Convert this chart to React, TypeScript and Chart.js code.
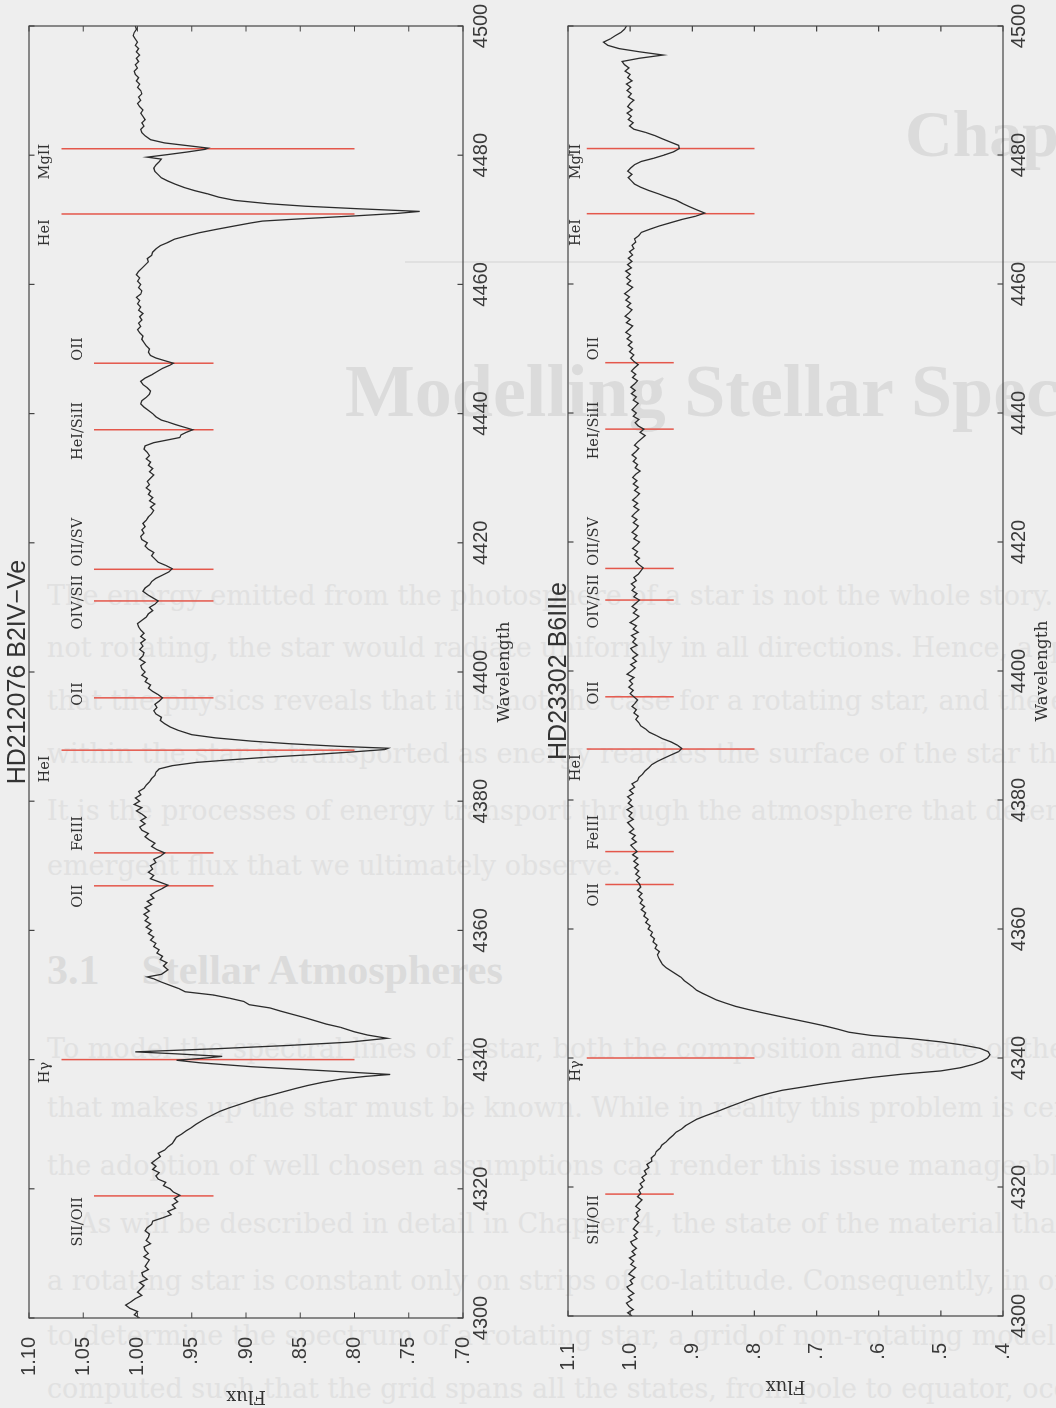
import React, { useEffect, useRef } from 'react';
import { Chart, registerables } from 'chart.js';

Chart.register(...registerables);

// ---------------- DATA ----------------
// HD212076 (B2IV-Ve): [wavelength (Å), normalised flux]
const HD212076_SPECTRUM: [number, number][] = [
  [4300,0.998],[4300.5,1.003],[4301,1.000],[4301.5,1.007],[4302,1.011],[4302.5,1.006],[4303,1.002],[4303.5,0.996],[4304,1.000],[4304.5,0.997],
  [4305,0.994],[4305.5,0.998],[4306,0.991],[4306.5,0.995],[4307,0.996],[4307.5,0.990],[4308,0.993],[4308.5,0.991],[4309,0.989],[4309.5,0.994],
  [4310,0.990],[4310.5,0.993],[4311,0.994],[4311.5,0.988],[4312,0.992],[4312.5,0.990],[4313,0.989],[4313.5,0.993],[4314,0.991],[4314.5,0.987],
  [4315,0.986],[4315.5,0.977],[4316,0.969],[4316.5,0.972],[4317,0.965],[4317.5,0.968],[4318,0.963],[4318.5,0.966],[4319,0.961],[4319.5,0.967],
  [4320,0.970],[4320.5,0.976],[4321,0.974],[4321.5,0.981],[4322,0.983],[4322.5,0.980],[4323,0.986],[4323.5,0.983],[4324,0.987],[4324.5,0.983],
  [4325,0.979],[4325.5,0.981],[4326,0.975],[4326.5,0.972],[4327,0.968],[4327.5,0.966],[4328,0.964],[4328.5,0.959],[4329,0.955],[4329.5,0.950],
  [4330,0.946],[4330.5,0.941],[4331,0.936],[4331.5,0.930],[4332,0.924],[4332.5,0.916],[4333,0.907],[4333.5,0.898],[4334,0.889],[4334.5,0.877],
  [4335,0.866],[4335.5,0.855],[4336,0.843],[4336.5,0.829],[4337,0.812],[4337.4,0.790],[4337.7,0.767],[4338.3,0.830],[4338.9,0.895],[4339.5,0.942],
  [4339.9,0.964],[4340.2,0.940],[4340.5,0.922],[4340.9,0.965],[4341.2,1.002],[4341.7,0.925],[4342.2,0.860],[4342.7,0.805],[4343.3,0.770],[4343.8,0.788],
  [4344.3,0.800],[4345,0.813],[4345.5,0.826],[4346,0.836],[4346.5,0.846],[4347,0.857],[4347.5,0.868],[4348,0.878],[4348.5,0.897],[4349,0.902],
  [4349.5,0.915],[4350,0.930],[4350.5,0.956],[4351,0.962],[4351.5,0.970],[4352,0.978],[4352.5,0.985],[4352.8,0.991],[4353.2,0.978],[4353.9,0.972],
  [4354.5,0.976],[4355,0.973],[4355.5,0.979],[4356,0.977],[4356.5,0.982],[4357,0.980],[4357.5,0.985],[4358,0.983],[4358.5,0.988],[4359,0.985],
  [4359.5,0.990],[4360,0.987],[4360.5,0.992],[4361,0.988],[4361.5,0.993],[4362,0.990],[4362.5,0.994],[4363,0.989],[4363.5,0.993],[4364,0.987],
  [4364.5,0.991],[4365,0.985],[4365.5,0.988],[4366,0.983],[4366.5,0.977],[4367,0.972],[4367.5,0.980],[4368,0.988],[4368.5,0.985],[4369,0.990],
  [4369.5,0.986],[4370,0.988],[4370.5,0.983],[4371,0.985],[4371.5,0.979],[4372,0.975],[4372.5,0.982],[4373,0.987],[4373.5,0.984],[4374,0.989],
  [4374.5,0.993],[4375,0.990],[4375.5,0.996],[4376,0.998],[4376.5,0.993],[4377,0.997],[4377.5,0.992],[4378,0.996],[4378.5,1.001],[4379,0.996],
  [4379.5,1.003],[4380,0.998],[4380.5,1.002],[4381,0.997],[4381.5,0.999],[4382,0.994],[4382.5,0.992],[4383,0.989],[4383.5,0.987],[4384,0.984],
  [4384.5,0.983],[4385,0.980],[4385.5,0.968],[4386,0.946],[4386.4,0.915],[4386.8,0.881],[4387.2,0.840],[4387.6,0.804],[4388,0.772],[4388.2,0.769],
  [4388.5,0.815],[4388.9,0.860],[4389.3,0.895],[4389.8,0.928],[4390.3,0.950],[4391,0.963],[4391.5,0.970],[4392,0.975],[4392.5,0.979],[4393,0.978],
  [4393.5,0.983],[4394,0.985],[4394.5,0.982],[4395,0.984],[4395.5,0.980],[4396,0.977],[4396.5,0.981],[4397,0.986],[4397.5,0.990],[4398,0.988],
  [4398.5,0.993],[4399,0.991],[4399.5,0.996],[4400,0.993],[4400.5,0.996],[4401,0.997],[4401.5,0.993],[4402,0.998],[4402.5,0.995],[4403,0.994],
  [4403.5,0.998],[4404,0.995],[4404.5,0.997],[4405,0.993],[4405.5,0.997],[4406,0.994],[4406.5,0.997],[4407,0.999],[4407.5,1.000],[4408,0.996],
  [4408.5,0.992],[4409,0.990],[4409.5,0.986],[4410,0.989],[4410.5,0.984],[4411,0.981],[4411.5,0.986],[4412,0.991],[4412.5,0.995],[4413,0.993],
  [4413.5,0.989],[4414,0.987],[4414.5,0.983],[4415,0.977],[4415.5,0.971],[4416,0.968],[4416.5,0.974],[4417,0.981],[4417.5,0.984],[4418,0.987],
  [4418.5,0.985],[4419,0.990],[4419.5,0.993],[4420,0.991],[4420.5,0.996],[4421,0.997],[4421.5,0.994],[4422,0.996],[4422.5,0.993],[4423,0.995],
  [4423.5,0.992],[4424,0.990],[4424.5,0.987],[4425,0.985],[4425.5,0.988],[4426,0.984],[4426.5,0.989],[4427,0.986],[4427.5,0.990],[4428,0.988],
  [4428.5,0.992],[4429,0.989],[4429.5,0.991],[4430,0.988],[4430.5,0.985],[4431,0.989],[4431.5,0.986],[4432,0.990],[4432.5,0.988],[4433,0.992],
  [4433.5,0.989],[4434,0.991],[4434.5,0.994],[4435,0.993],[4435.5,0.985],[4436,0.970],[4436.3,0.961],[4436.7,0.960],[4437.1,0.955],[4437.5,0.949],
  [4437.9,0.957],[4438.3,0.965],[4438.7,0.972],[4439,0.978],[4439.5,0.983],[4440,0.986],[4440.5,0.990],[4441,0.994],[4441.5,0.997],[4442,0.996],
  [4442.5,0.992],[4443,0.989],[4443.5,0.988],[4444,0.991],[4444.5,0.995],[4445,0.997],[4445.5,0.993],[4446,0.987],[4446.5,0.982],[4447,0.977],
  [4447.5,0.970],[4447.8,0.967],[4448.2,0.975],[4448.6,0.983],[4449,0.988],[4449.5,0.990],[4450,0.989],[4450.5,0.992],[4451,0.994],[4451.5,0.996],
  [4452,0.995],[4452.5,0.998],[4453,1.000],[4453.5,0.997],[4454,0.999],[4454.5,0.996],[4455,0.998],[4455.5,0.995],[4456,0.999],[4456.5,0.997],
  [4457,1.000],[4457.5,0.998],[4458,1.001],[4458.5,0.997],[4459,0.996],[4459.5,0.999],[4460,0.997],[4460.5,1.000],[4461,0.998],[4461.5,1.001],
  [4462,0.999],[4462.5,0.996],[4463,0.993],[4463.5,0.990],[4464,0.991],[4464.5,0.987],[4465,0.986],[4465.5,0.983],[4466,0.979],[4466.5,0.972],
  [4467,0.966],[4467.5,0.955],[4468,0.943],[4468.5,0.928],[4469,0.912],[4469.5,0.896],[4469.8,0.885],[4470.2,0.845],[4470.6,0.800],[4471,0.760],
  [4471.3,0.740],[4471.7,0.795],[4472.1,0.845],[4472.5,0.880],[4473,0.910],[4473.5,0.925],[4474,0.935],[4474.5,0.947],[4475,0.957],[4475.5,0.965],
  [4476,0.972],[4476.5,0.978],[4477,0.981],[4477.5,0.984],[4478,0.985],[4478.5,0.983],[4479,0.980],[4479.4,0.978],[4479.7,0.991],[4480.1,0.972],
  [4480.5,0.954],[4480.9,0.938],[4481.1,0.935],[4481.5,0.955],[4481.9,0.975],[4482.4,0.988],[4483,0.993],[4483.5,0.996],[4484,0.997],[4484.5,0.994],
  [4485,0.996],[4485.5,0.993],[4486,0.995],[4486.5,0.997],[4487,0.995],[4487.5,0.998],[4488,1.000],[4488.5,0.997],[4489,0.999],[4489.5,0.996],
  [4490,0.997],[4490.5,1.000],[4491,0.998],[4491.5,1.001],[4492,0.999],[4492.5,1.002],[4493,1.003],[4493.5,1.000],[4494,1.002],[4494.5,0.999],
  [4495,1.001],[4495.5,0.998],[4496,1.001],[4496.5,0.999],[4497,1.002],[4497.5,1.000],[4498,1.002],[4498.5,1.004],[4499,1.003],[4499.5,1.001],
  [4500,1.002],
];

// HD23302 (B6IIIe): [wavelength (Å), normalised flux]
const HD23302_SPECTRUM: [number, number][] = [
  [4300,0.997],[4300.5,1.004],[4301,0.995],[4301.5,1.002],[4302,1.006],[4302.5,0.997],[4303,1.003],[4303.5,0.994],[4304,1.001],[4304.5,1.005],
  [4305,0.996],[4305.5,1.000],[4306,0.993],[4306.5,1.002],[4307,0.997],[4307.5,0.991],[4308,0.999],[4308.5,0.994],[4309,1.001],[4309.5,0.992],
  [4310,0.997],[4310.5,0.990],[4311,0.996],[4311.5,0.999],[4312,0.989],[4312.5,0.994],[4313,0.988],[4313.5,0.995],[4314,0.991],[4314.5,0.986],
  [4315,0.993],[4315.5,0.987],[4316,0.990],[4316.5,0.984],[4317,0.991],[4317.5,0.986],[4318,0.981],[4318.5,0.988],[4319,0.983],[4319.5,0.986],
  [4320,0.980],[4320.5,0.984],[4321,0.977],[4321.5,0.981],[4322,0.974],[4322.5,0.977],[4323,0.970],[4323.5,0.973],[4324,0.965],[4324.5,0.966],
  [4325,0.960],[4325.5,0.958],[4326,0.952],[4326.5,0.949],[4327,0.942],[4327.5,0.937],[4328,0.931],[4328.5,0.926],[4329,0.917],[4329.5,0.911],
  [4330,0.902],[4330.5,0.893],[4331,0.880],[4331.5,0.866],[4332,0.852],[4332.5,0.839],[4333,0.825],[4333.5,0.811],[4334,0.796],[4334.5,0.777],
  [4335,0.755],[4335.5,0.722],[4336,0.690],[4336.5,0.652],[4337,0.610],[4337.5,0.562],[4338,0.500],[4338.5,0.468],[4339,0.448],[4339.5,0.434],
  [4340,0.425],[4340.5,0.421],[4341,0.424],[4341.5,0.437],[4342,0.464],[4342.5,0.500],[4343,0.548],[4343.5,0.612],[4344,0.648],[4344.5,0.667],
  [4345,0.688],[4345.5,0.712],[4346,0.737],[4346.5,0.762],[4347,0.786],[4347.5,0.809],[4348,0.830],[4348.5,0.846],[4349,0.861],[4349.5,0.872],
  [4350,0.883],[4350.5,0.893],[4351,0.899],[4351.5,0.906],[4352,0.913],[4352.5,0.918],[4353,0.926],[4353.5,0.934],[4354,0.942],[4354.5,0.948],
  [4355,0.951],[4355.5,0.954],[4356,0.956],[4356.5,0.953],[4357,0.960],[4357.5,0.957],[4358,0.963],[4358.5,0.961],[4359,0.967],[4359.5,0.964],
  [4360,0.971],[4360.5,0.968],[4361,0.975],[4361.5,0.971],[4362,0.978],[4362.5,0.975],[4363,0.982],[4363.5,0.977],[4364,0.984],[4364.5,0.980],
  [4365,0.986],[4365.5,0.981],[4366,0.988],[4366.5,0.983],[4367,0.985],[4367.5,0.990],[4368,0.984],[4368.5,0.991],[4369,0.986],[4369.5,0.993],
  [4370,0.987],[4370.5,0.994],[4371,0.988],[4371.5,0.996],[4372,0.989],[4372.5,0.994],[4373,0.999],[4373.5,0.990],[4374,0.997],[4374.5,0.992],
  [4375,1.001],[4375.5,0.994],[4376,0.999],[4376.5,1.004],[4377,0.995],[4377.5,1.002],[4378,0.997],[4378.5,1.005],[4379,0.996],[4379.5,1.003],
  [4380,0.998],[4380.5,1.004],[4381,0.995],[4381.5,1.001],[4382,0.993],[4382.5,0.997],[4383,0.988],[4383.5,0.986],[4384,0.980],[4384.5,0.976],
  [4385,0.970],[4385.5,0.965],[4386,0.956],[4386.5,0.945],[4387,0.934],[4387.5,0.922],[4388,0.917],[4388.5,0.924],[4389,0.934],[4389.5,0.948],
  [4390,0.958],[4390.5,0.969],[4391,0.975],[4391.5,0.983],[4392,0.986],[4392.5,0.991],[4393,0.987],[4393.5,0.994],[4394,0.990],[4394.5,0.997],
  [4395,0.992],[4395.5,0.988],[4396,0.994],[4396.5,1.000],[4397,0.995],[4397.5,1.002],[4398,0.996],[4398.5,1.001],[4399,0.994],[4399.5,1.005],
  [4400,0.998],[4400.5,0.992],[4401,0.999],[4401.5,0.990],[4402,0.996],[4402.5,0.988],[4403,0.995],[4403.5,0.999],[4404,0.989],[4404.5,0.996],
  [4405,0.991],[4405.5,0.998],[4406,0.987],[4406.5,0.995],[4407,0.990],[4407.5,1.000],[4408,0.992],[4408.5,0.986],[4409,0.995],[4409.5,0.989],
  [4410,0.997],[4410.5,0.991],[4411,0.985],[4411.5,0.994],[4412,0.989],[4412.5,0.997],[4413,0.992],[4413.5,0.998],[4414,0.990],[4414.5,0.994],
  [4415,0.987],[4415.5,0.983],[4416,0.979],[4416.5,0.986],[4417,0.991],[4417.5,0.985],[4418,0.993],[4418.5,0.988],[4419,0.996],[4419.5,0.990],
  [4420,0.985],[4420.5,0.994],[4421,0.989],[4421.5,0.997],[4422,0.991],[4422.5,0.987],[4423,0.995],[4423.5,0.989],[4424,0.997],[4424.5,0.992],
  [4425,0.986],[4425.5,0.994],[4426,0.988],[4426.5,0.996],[4427,0.990],[4427.5,0.985],[4428,0.993],[4428.5,0.987],[4429,0.995],[4429.5,0.989],
  [4430,0.996],[4430.5,0.991],[4431,0.984],[4431.5,0.992],[4432,0.988],[4432.5,0.995],[4433,0.990],[4433.5,0.997],[4434,0.991],[4434.5,0.986],
  [4435,0.993],[4435.5,0.988],[4436,0.982],[4436.5,0.976],[4437,0.984],[4437.5,0.978],[4438,0.987],[4438.5,0.992],[4439,0.986],[4439.5,0.995],
  [4440,0.990],[4440.5,0.997],[4441,0.992],[4441.5,0.987],[4442,0.995],[4442.5,0.990],[4443,0.998],[4443.5,0.992],[4444,0.999],[4444.5,0.993],
  [4445,0.988],[4445.5,0.996],[4446,0.991],[4446.5,0.998],[4447,0.993],[4447.5,0.987],[4448,0.994],[4448.5,0.999],[4449,0.994],[4449.5,1.001],
  [4450,0.996],[4450.5,1.003],[4451,0.997],[4451.5,1.005],[4452,0.999],[4452.5,1.007],[4453,1.001],[4453.5,0.996],[4454,1.006],[4454.5,1.000],
  [4455,1.008],[4455.5,1.002],[4456,0.997],[4456.5,1.005],[4457,0.999],[4457.5,1.007],[4458,1.001],[4458.5,1.009],[4459,1.002],[4459.5,0.996],
  [4460,1.005],[4460.5,0.999],[4461,1.006],[4461.5,1.000],[4462,1.007],[4462.5,0.998],[4463,1.004],[4463.5,0.997],[4464,1.003],[4464.5,0.996],
  [4465,1.001],[4465.5,0.994],[4466,0.997],[4466.5,0.991],[4467,0.993],[4467.5,0.986],[4468,0.982],[4468.5,0.968],[4469,0.953],[4469.5,0.935],
  [4470,0.917],[4470.5,0.895],[4471,0.880],[4471.5,0.893],[4472,0.905],[4472.5,0.916],[4473,0.926],[4473.5,0.941],[4474,0.955],[4474.5,0.970],
  [4475,0.983],[4475.5,0.993],[4476,0.998],[4476.5,1.003],[4477,0.997],[4477.5,1.004],[4478,0.999],[4478.5,0.993],[4479,0.982],[4479.5,0.962],
  [4480,0.945],[4480.5,0.930],[4481,0.921],[4481.5,0.922],[4482,0.935],[4482.5,0.948],[4483,0.960],[4483.5,0.975],[4484,0.994],[4484.5,1.001],
  [4485,0.995],[4485.5,1.003],[4486,0.998],[4486.5,1.005],[4487,0.997],[4487.5,1.004],[4488,1.000],[4488.5,0.994],[4489,1.003],[4489.5,0.998],
  [4490,1.005],[4490.5,0.999],[4491,1.006],[4491.5,0.997],[4492,1.004],[4492.5,1.000],[4493,1.008],[4493.5,1.002],[4494,1.009],[4494.5,1.013],
  [4495,0.985],[4495.5,0.947],[4496,0.985],[4496.5,1.018],[4497,1.036],[4497.5,1.043],[4498,1.032],[4498.5,1.024],[4499,1.015],[4499.5,1.009],
  [4500,1.006],
];

// Identified lines (same set marked on both spectra)
const LINE_NAMES = ['SII/OII', 'Hγ', 'OII', 'FeIII', 'HeI', 'OII', 'OIV/SII', 'OII/SV', 'HeI/SiII', 'OII', 'HeI', 'MgII'];
const LINE_WAVELENGTHS = [4318.9, 4340.0, 4366.9, 4372.0, 4387.9, 4396.0, 4411.0, 4415.9, 4437.5, 4447.8, 4470.9, 4481.0];
const LINE_LABEL_WAVELENGTHS = [4314.9, 4338.0, 4365.3, 4375.0, 4385.0, 4396.6, 4410.8, 4420.1, 4437.3, 4450.0, 4468.0, 4479.0];
const LINE_STRONG = [false, true, false, false, true, false, false, false, false, false, true, true];
const STRONG_MARK_FLUX = [1.07, 0.80];
const WEAK_MARK_FLUX = [1.04, 0.93];

const WAVE_MIN = 4300;
const WAVE_MAX = 4500;
const WAVE_STEP = 20;

// ---------------- STYLE / LAYOUT ----------------
const INK = '#2b2b2b';
const RED = '#e4574b';

const PLOT_A = {
  title: 'HD212076 B2IV\u2212Ve',
  spectrum: HD212076_SPECTRUM,
  yMin: 0.7, yMax: 1.1, yStep: 0.05, decimals: 2,
  labelStrong: 1.085, labelWeak: 1.055,
  height: 530, yAxisWidth: 90, xAxisHeight: 67,
  titlePadTop: 12.25, titlePadBottom: 4.25,
  yTickPad: 19, xTickPad: 6, yTitlePad: 1.5, xTitlePadBottom: 15,
};
const PLOT_B = {
  title: 'HD23302 B6IIIe',
  spectrum: HD23302_SPECTRUM,
  yMin: 0.4, yMax: 1.1, yStep: 0.1, decimals: 1,
  labelStrong: 1.086, labelWeak: 1.057,
  height: 526, yAxisWidth: 92, xAxisHeight: 53,
  titlePadTop: 23.25, titlePadBottom: 2.25,
  yTickPad: 27, xTickPad: 4.5, yTitlePad: 12, xTitlePadBottom: 3.3,
};

const framePlugin = {
  id: 'idlFrame',
  afterDraw(chart: any) {
    const { ctx, chartArea: a, scales } = chart;
    const x = scales.x, y = scales.y;
    ctx.save();
    ctx.strokeStyle = '#444';
    ctx.lineWidth = 1.2;
    ctx.strokeRect(a.left, a.top, a.right - a.left, a.bottom - a.top);
    const L = 5.5;
    ctx.beginPath();
    x.ticks.forEach((t: any) => {
      const px = x.getPixelForValue(t.value);
      ctx.moveTo(px, a.bottom); ctx.lineTo(px, a.bottom - L);
      ctx.moveTo(px, a.top); ctx.lineTo(px, a.top + L);
    });
    y.ticks.forEach((t: any) => {
      const py = y.getPixelForValue(t.value);
      ctx.moveTo(a.left, py); ctx.lineTo(a.left + L, py);
      ctx.moveTo(a.right, py); ctx.lineTo(a.right - L, py);
    });
    ctx.stroke();
    ctx.restore();
  },
};

function makeLabelPlugin(strong: number, weak: number) {
  return {
    id: 'lineLabels',
    afterDatasetsDraw(chart: any) {
      const { ctx, scales } = chart;
      ctx.save();
      ctx.font = '14.5px "DejaVu Serif"';
      ctx.fillStyle = '#333';
      ctx.textAlign = 'center';
      ctx.textBaseline = 'middle';
      LINE_NAMES.forEach((name, i) => {
        ctx.fillText(
          name,
          scales.x.getPixelForValue(LINE_LABEL_WAVELENGTHS[i]),
          scales.y.getPixelForValue(LINE_STRONG[i] ? strong : weak)
        );
      });
      ctx.restore();
    },
  };
}

function buildConfig(p: any): any {
  const markers = LINE_WAVELENGTHS.map((w, i) => ({
    data: (LINE_STRONG[i] ? STRONG_MARK_FLUX : WEAK_MARK_FLUX).map((f) => ({ x: w, y: f })),
    showLine: true,
    borderColor: RED,
    borderWidth: 1.5,
    pointRadius: 0,
  }));
  const fmt = (v: any) => {
    const s = Number(v).toFixed(p.decimals);
    return s.startsWith('0') ? s.slice(1) : s;
  };
  return {
    type: 'scatter',
    data: {
      datasets: [
        {
          data: p.spectrum.map((d: [number, number]) => ({ x: d[0], y: d[1] })),
          showLine: true,
          borderColor: INK,
          borderWidth: 1.3,
          pointRadius: 0,
          tension: 0,
        },
        ...markers,
      ],
    },
    options: {
      responsive: false,
      animation: false,
      events: [],
      layout: { padding: { top: 0, right: 26, bottom: 0, left: 0 } },
      elements: { point: { radius: 0 } },
      plugins: {
        legend: { display: false },
        tooltip: { enabled: false },
        title: {
          display: true,
          fullSize: false,
          text: p.title,
          color: '#333',
          font: { family: '"Liberation Sans", Arial, sans-serif', size: 25, weight: 'normal', lineHeight: 0.5 },
          padding: { top: p.titlePadTop, bottom: p.titlePadBottom },
        },
      },
      scales: {
        x: {
          type: 'linear',
          min: WAVE_MIN,
          max: WAVE_MAX,
          grid: { display: false, drawTicks: false },
          border: { display: false },
          ticks: {
            stepSize: WAVE_STEP,
            maxRotation: 0,
            minRotation: 0,
            padding: p.xTickPad,
            color: '#3a3a3a',
            font: { family: '"Liberation Sans", Arial, sans-serif', size: 20 },
            callback: (v: any) => String(v),
          },
          title: {
            display: true,
            text: 'Wavelength',
            color: '#333',
            font: { family: '"DejaVu Serif", serif', size: 17 },
            padding: { top: 0, bottom: p.xTitlePadBottom },
          },
          afterFit: (s: any) => {
            s.height = p.xAxisHeight;
            s.paddingLeft = 0;
            s.paddingRight = 0;
          },
        },
        y: {
          type: 'linear',
          min: p.yMin,
          max: p.yMax,
          grid: { display: false, drawTicks: false },
          border: { display: false },
          ticks: {
            stepSize: p.yStep,
            padding: p.yTickPad,
            color: '#3a3a3a',
            font: { family: '"Liberation Sans", Arial, sans-serif', size: 20 },
            callback: fmt,
          },
          title: {
            display: true,
            text: 'Flux',
            color: '#333',
            font: { family: '"DejaVu Serif", serif', size: 18 },
            padding: { top: p.yTitlePad, bottom: 0 },
          },
          afterFit: (s: any) => {
            s.width = p.yAxisWidth;
            s.paddingTop = 0;
            s.paddingBottom = 0;
          },
        },
      },
    },
    plugins: [framePlugin, makeLabelPlugin(p.labelStrong, p.labelWeak)],
  };
}

// faint bleed-through of the scanned page underneath the figure
const HEADING_FAINT = '#dbdbdb';
const TEXT_FAINT = '#e1e1e1';
const PARAGRAPH_LINES: [number, number, string][] = [
  [47, 605, 'The energy emitted from the photosphere of a star is not the whole story. If the star is'],
  [47, 657, 'not rotating, the star would radiate uniformly in all directions. Hence, a quantity'],
  [47, 710, 'that the physics reveals that it is not the case for a rotating star, and the energy'],
  [47, 763, 'within the star is transported as energy reaches the surface of the star through the'],
  [47, 820, 'It is the processes of energy transport through the atmosphere that determine the'],
  [47, 875, 'emergent flux that we ultimately observe.'],
  [47, 1058, 'To model the spectral lines of a star, both the composition and state of the material'],
  [47, 1117, 'that makes up the star must be known. While in reality this problem is certainly complex,'],
  [47, 1175, 'the adoption of well chosen assumptions can render this issue manageable.'],
  [78, 1233, 'As will be described in detail in Chapter 4, the state of the material that composes'],
  [47, 1290, 'a rotating star is constant only on strips of co-latitude. Consequently, in order'],
  [47, 1345, 'to determine the spectrum of a rotating star, a grid of non-rotating model spectra is'],
  [47, 1398, 'computed such that the grid spans all the states, from pole to equator, occupied by'],
];

function Faint({ left, baseline, size, bold, family, text, color }: any) {
  return (
    <div
      style={{
        position: 'absolute',
        left,
        top: baseline - size * 0.85,
        fontSize: size,
        lineHeight: `${size}px`,
        fontFamily: family,
        fontWeight: bold ? 'bold' : 'normal',
        color,
        whiteSpace: 'nowrap',
      }}
    >
      {text}
    </div>
  );
}

export default function App() {
  const refA = useRef<HTMLCanvasElement>(null);
  const refB = useRef<HTMLCanvasElement>(null);

  useEffect(() => {
    const a = new Chart(refA.current as HTMLCanvasElement, buildConfig(PLOT_A));
    const b = new Chart(refB.current as HTMLCanvasElement, buildConfig(PLOT_B));
    return () => {
      a.destroy();
      b.destroy();
    };
  }, []);

  return (
    <div
      style={{
        position: 'absolute',
        left: 0,
        top: 0,
        width: 1056,
        height: 1408,
        overflow: 'hidden',
        background: '#eeeeee',
      }}
    >
      <Faint left={905} baseline={157} size={66} bold family='"Liberation Serif", serif' text="Chapter 3" color={HEADING_FAINT} />
      <div style={{ position: 'absolute', left: 405, top: 261, width: 651, height: 2, background: '#e0e0e0' }} />
      <Faint left={345} baseline={417} size={74} bold family='"Liberation Serif", serif' text="Modelling Stellar Spectra" color={HEADING_FAINT} />
      <Faint left={47} baseline={985} size={42} bold family='"Liberation Serif", serif' text={'3.1\u2003Stellar Atmospheres'} color={HEADING_FAINT} />
      {PARAGRAPH_LINES.map(([l, b, t], i) => (
        <Faint key={i} left={l} baseline={b} size={27} family='"DejaVu Serif", serif' text={t} color={TEXT_FAINT} />
      ))}

      <div
        style={{
          position: 'absolute',
          left: 0,
          top: 0,
          width: 1408,
          height: 1056,
          transformOrigin: '0 0',
          transform: 'translateY(1408px) rotate(-90deg)',
        }}
      >
        <canvas
          ref={refA}
          width={1408}
          height={PLOT_A.height}
          style={{ position: 'absolute', left: 0, top: 0, width: 1408, height: PLOT_A.height }}
        />
        <canvas
          ref={refB}
          width={1408}
          height={PLOT_B.height}
          style={{ position: 'absolute', left: 0, top: PLOT_A.height, width: 1408, height: PLOT_B.height }}
        />
      </div>
    </div>
  );
}
